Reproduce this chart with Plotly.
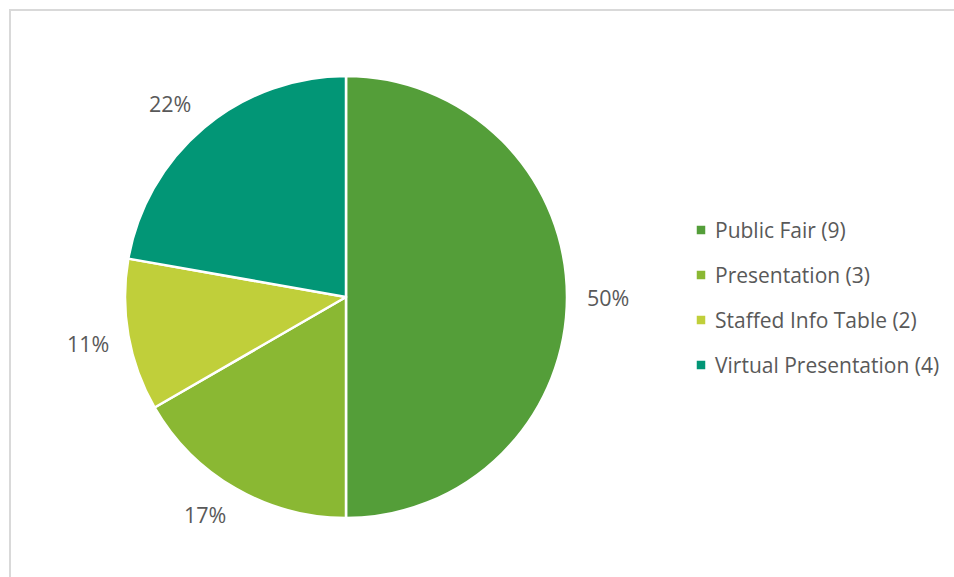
import math
import plotly.graph_objects as go

# Event types and their counts
categories = ["Public Fair", "Presentation", "Staffed Info Table", "Virtual Presentation"]
counts = [9, 3, 2, 4]
colors = ["#549E39", "#8AB833", "#C0CF3A", "#029676"]

W, H = 954, 577
FONT = "Open Sans"
TEXT_COLOR = "#595959"

# pie placement (pixels)
cx, cy, r = 346, 297, 221

def px(x):
    return x / W

def py(y):
    return 1 - y / H

fig = go.Figure()
fig.add_trace(go.Pie(
    labels=categories,
    values=counts,
    marker=dict(colors=colors, line=dict(color="white", width=2.5)),
    sort=False,
    direction="clockwise",
    rotation=0,
    textinfo="none",
    hoverinfo="label+value+percent",
    showlegend=False,
    domain=dict(x=[px(cx - r), px(cx + r)], y=[py(cy + r), py(cy - r)]),
))

annotations = []
shapes = []

def clamp(v):
    return max(-1.0, min(1.0, v))

# percentage labels: a box just outside the slice edge at its mid-angle
total = sum(counts)
cum = 0
gap, half_w, half_h = 21, 20, 8
for c in counts:
    frac = c / total
    mid = (cum + frac / 2) * 2 * math.pi
    cum += frac
    dx, dy = math.sin(mid), -math.cos(mid)
    lx = cx + (r + gap) * dx + half_w * clamp(3 * dx)
    ly = cy + (r + gap) * dy + half_h * clamp(3 * dy)
    annotations.append(dict(
        x=px(lx), y=py(ly), xref="paper", yref="paper",
        text=f"{round(frac * 100):.0f}%", showarrow=False,
        xanchor="center", yanchor="middle",
        font=dict(family=FONT, size=21.5, color=TEXT_COLOR),
    ))

# legend: square swatch + label with count
leg_x, leg_y0, leg_gap, sw = 701, 230, 45, 8.5
for i, (name, c, col) in enumerate(zip(categories, counts, colors)):
    y = leg_y0 + i * leg_gap
    shapes.append(dict(
        type="rect", xref="paper", yref="paper",
        x0=px(leg_x - sw / 2), x1=px(leg_x + sw / 2),
        y0=py(y + sw / 2), y1=py(y - sw / 2),
        fillcolor=col, line=dict(width=0),
    ))
    annotations.append(dict(
        x=px(713), y=py(y), xref="paper", yref="paper",
        text=f"{name} ({c})", showarrow=False,
        xanchor="left", yanchor="middle",
        font=dict(family=FONT, size=21, color=TEXT_COLOR),
    ))

# chart frame
shapes.append(dict(
    type="rect", xref="paper", yref="paper",
    x0=px(10), x1=px(W + 20), y0=py(H + 20), y1=py(10),
    line=dict(color="#D9D9D9", width=2), fillcolor="rgba(0,0,0,0)",
    layer="below",
))

fig.update_layout(
    width=W, height=H,
    margin=dict(l=0, r=0, t=0, b=0),
    paper_bgcolor="white",
    plot_bgcolor="white",
    annotations=annotations,
    shapes=shapes,
    showlegend=False,
)

fig.write_html("out.html")
